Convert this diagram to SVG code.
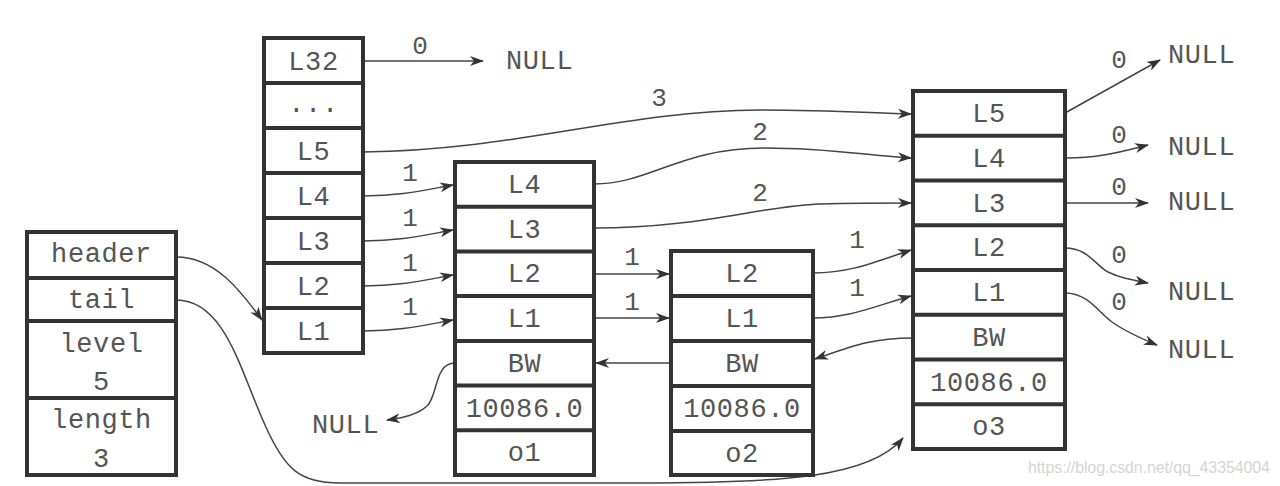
<svg xmlns="http://www.w3.org/2000/svg" width="1280" height="486" viewBox="0 0 1280 486">
<defs>
<style>
.box{fill:#fff;stroke:#333;stroke-width:4}
.div{stroke:#333;stroke-width:4}
.t{font-family:"Liberation Mono","Courier New",monospace;font-size:27px;fill:#555;text-anchor:middle;letter-spacing:0.6px}
.n{font-family:"Liberation Mono","Courier New",monospace;font-size:27px;fill:#555;letter-spacing:0.6px}
.lb{font-family:"Liberation Mono","Courier New",monospace;font-size:26px;fill:#555;text-anchor:middle}
.c{fill:none;stroke:#444;stroke-width:1.5;marker-end:url(#ah)}
.wm{font-family:"Liberation Sans",Arial,sans-serif;font-size:16px;fill:#d4d4d4}
</style>
<marker id="ah" viewBox="0 0 14 10" markerWidth="14" markerHeight="10" refX="13" refY="5" orient="auto" markerUnits="userSpaceOnUse">
<path d="M0,0 L14,5 L0,10 L4,5 z" fill="#333"/>
</marker>
</defs>
<rect width="1280" height="486" fill="#fff"/>

<g id="connectors">
<path class="c" d="M363,61 L483,61"/>
<path class="c" d="M363,152 C520,150 620,111 760,110 C830,110 870,113 911,114"/>
<path class="c" d="M363,196 C400,196 420,191 453,185"/>
<path class="c" d="M363,241 C400,241 420,236 453,230"/>
<path class="c" d="M363,286 C400,286 420,281 453,275"/>
<path class="c" d="M363,331 C400,331 420,326 453,320"/>
<path class="c" d="M594,184 C650,184 680,148 765,148 C830,148 870,156 911,158"/>
<path class="c" d="M594,228 C700,228 760,206 820,204 C860,203 890,203 911,203"/>
<path class="c" d="M594,274 L669,274"/>
<path class="c" d="M594,318 L669,318"/>
<path class="c" d="M813,273 C850,273 875,262 911,250"/>
<path class="c" d="M813,318 C850,318 875,306 911,296"/>
<path class="c" d="M671,363 L596,363"/>
<path class="c" d="M913,338 C870,338 850,347 815,359"/>
<path class="c" d="M455,363 C435,363 438,393 428,405 C418,415 402,418 387,420"/>
<path class="c" d="M1065,113 L1160,60"/>
<path class="c" d="M1065,158 C1100,158 1120,152 1148,145"/>
<path class="c" d="M1065,203 L1148,203"/>
<path class="c" d="M1065,248 C1088,248 1095,265 1108,272 C1120,278 1132,280 1148,283"/>
<path class="c" d="M1065,293 C1088,293 1098,312 1112,322 C1126,332 1140,338 1157,345"/>
<path class="c" d="M176,257 C215,257 240,290 262,320"/>
<path class="c" d="M176,300 C225,300 240,370 265,425 C285,470 300,483 340,483 L640,483 C780,483 870,478 903,438"/>
</g>

<g id="labels">
<text class="lb" x="420" y="54">0</text>
<text class="lb" x="659" y="106">3</text>
<text class="lb" x="410" y="181">1</text>
<text class="lb" x="410" y="226">1</text>
<text class="lb" x="410" y="271">1</text>
<text class="lb" x="410" y="315">1</text>
<text class="lb" x="760" y="140">2</text>
<text class="lb" x="760" y="201">2</text>
<text class="lb" x="632" y="265">1</text>
<text class="lb" x="632" y="310">1</text>
<text class="lb" x="857" y="248">1</text>
<text class="lb" x="857" y="296">1</text>
<text class="lb" x="1119" y="68">0</text>
<text class="lb" x="1119" y="143">0</text>
<text class="lb" x="1119" y="195">0</text>
<text class="lb" x="1119" y="263">0</text>
<text class="lb" x="1119" y="310">0</text>
</g>

<g id="nulls">
<text class="n" x="506" y="69">NULL</text>
<text class="n" x="312" y="433">NULL</text>
<text class="n" x="1168" y="63">NULL</text>
<text class="n" x="1168" y="155">NULL</text>
<text class="n" x="1168" y="210">NULL</text>
<text class="n" x="1168" y="300">NULL</text>
<text class="n" x="1168" y="358">NULL</text>
</g>

<g id="list">
<rect class="box" x="27" y="232" width="149" height="243"/>
<line class="div" x1="27" y1="278" x2="176" y2="278"/>
<line class="div" x1="27" y1="321" x2="176" y2="321"/>
<line class="div" x1="27" y1="398" x2="176" y2="398"/>
<text class="t" x="101.5" y="262">header</text>
<text class="t" x="101.5" y="308">tail</text>
<text class="t" x="101.5" y="352">level</text>
<text class="t" x="101.5" y="390">5</text>
<text class="t" x="101.5" y="428">length</text>
<text class="t" x="101.5" y="467">3</text>
</g>

<g id="header">
<rect class="box" x="264" y="38" width="99" height="315"/>
<line class="div" x1="264" y1="83" x2="363" y2="83"/>
<line class="div" x1="264" y1="128" x2="363" y2="128"/>
<line class="div" x1="264" y1="173" x2="363" y2="173"/>
<line class="div" x1="264" y1="218" x2="363" y2="218"/>
<line class="div" x1="264" y1="263" x2="363" y2="263"/>
<line class="div" x1="264" y1="308" x2="363" y2="308"/>
<text class="t" x="313.5" y="69.5">L32</text>
<text class="t" x="313.5" y="112">...</text>
<text class="t" x="313.5" y="159.5">L5</text>
<text class="t" x="313.5" y="204.5">L4</text>
<text class="t" x="313.5" y="249.5">L3</text>
<text class="t" x="313.5" y="294.5">L2</text>
<text class="t" x="313.5" y="339.5">L1</text>
</g>

<g id="node1">
<rect class="box" x="455" y="162" width="139" height="313"/>
<line class="div" x1="455" y1="206.7" x2="594" y2="206.7"/>
<line class="div" x1="455" y1="251.4" x2="594" y2="251.4"/>
<line class="div" x1="455" y1="296.1" x2="594" y2="296.1"/>
<line class="div" x1="455" y1="340.9" x2="594" y2="340.9"/>
<line class="div" x1="455" y1="385.6" x2="594" y2="385.6"/>
<line class="div" x1="455" y1="430.3" x2="594" y2="430.3"/>
<text class="t" x="524.5" y="193">L4</text>
<text class="t" x="524.5" y="237.5">L3</text>
<text class="t" x="524.5" y="282">L2</text>
<text class="t" x="524.5" y="327">L1</text>
<text class="t" x="524.5" y="371.5">BW</text>
<text class="t" x="524.5" y="416.5">10086.0</text>
<text class="t" x="524.5" y="461">o1</text>
</g>

<g id="node2">
<rect class="box" x="671" y="251" width="142" height="224"/>
<line class="div" x1="671" y1="296" x2="813" y2="296"/>
<line class="div" x1="671" y1="341" x2="813" y2="341"/>
<line class="div" x1="671" y1="386" x2="813" y2="386"/>
<line class="div" x1="671" y1="431" x2="813" y2="431"/>
<text class="t" x="742" y="282">L2</text>
<text class="t" x="742" y="327">L1</text>
<text class="t" x="742" y="372">BW</text>
<text class="t" x="742" y="417">10086.0</text>
<text class="t" x="742" y="461.5">o2</text>
</g>

<g id="node3">
<rect class="box" x="913" y="91" width="152" height="358"/>
<line class="div" x1="913" y1="135.75" x2="1065" y2="135.75"/>
<line class="div" x1="913" y1="180.5" x2="1065" y2="180.5"/>
<line class="div" x1="913" y1="225.25" x2="1065" y2="225.25"/>
<line class="div" x1="913" y1="270" x2="1065" y2="270"/>
<line class="div" x1="913" y1="314.75" x2="1065" y2="314.75"/>
<line class="div" x1="913" y1="359.5" x2="1065" y2="359.5"/>
<line class="div" x1="913" y1="404.25" x2="1065" y2="404.25"/>
<text class="t" x="989" y="122">L5</text>
<text class="t" x="989" y="166.5">L4</text>
<text class="t" x="989" y="211.5">L3</text>
<text class="t" x="989" y="256">L2</text>
<text class="t" x="989" y="301">L1</text>
<text class="t" x="989" y="345.5">BW</text>
<text class="t" x="989" y="390.5">10086.0</text>
<text class="t" x="989" y="435">o3</text>
</g>

<text class="wm" x="1028" y="473" textLength="242">https://blog.csdn.net/qq_43354004</text>
</svg>
